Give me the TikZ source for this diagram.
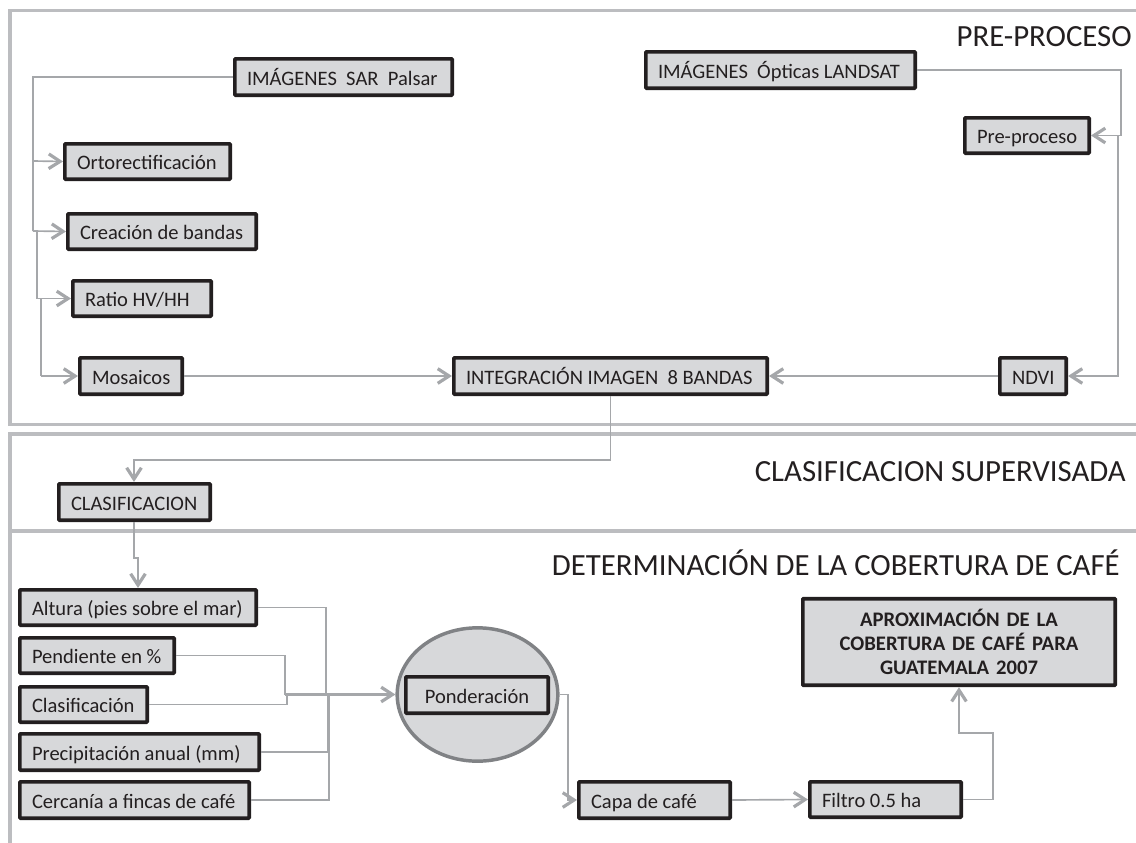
\documentclass[tikz,border=0pt]{standalone}
\usepackage{fontspec}
\setmainfont{Carlito}
\usetikzlibrary{arrows.meta,calc,shapes.geometric}
\definecolor{boxfill}{HTML}{D7D8DA}
\definecolor{frameline}{HTML}{BCBDC0}
\definecolor{connline}{HTML}{A5A7AA}
\definecolor{ink}{HTML}{231F20}
\definecolor{ellline}{HTML}{808285}
\tikzset{
  x=0.75pt,y=-0.75pt,
  flowbox/.style={draw=ink,fill=boxfill,line width=2.8pt,inner ysep=0pt,inner xsep=9.1pt,rounded corners=0.6pt,text=ink,font=\fontsize{15.4}{18}\selectfont},
  onelinebox/.style={flowbox,text height=15.5pt,text depth=3.5pt},
  conn/.style={draw=connline,line width=1.25pt},
  arr/.style={conn,-{Straight Barb[length=8.5pt,width=11pt,line width=2.4pt]}},
  panel/.style={draw=frameline,line width=2.6pt},
  heading/.style={anchor=base east,inner sep=0pt,text=ink,font=\fontsize{23.1}{26}\selectfont},
}
% alignment (l or c), name, left, top, right, bottom, text
\newcommand{\flowbx}[7][l]{%
  \pgfmathsetmacro{\bh}{(#6-#4)*0.75-2.8}%
  \pgfmathsetmacro{\tw}{(#5-#3)*0.75-2.8-18.2}%
  \node[onelinebox,minimum height=\bh pt] (#2) at ({(#3+#5)/2},{(#4+#6)/2}) {\makebox[\tw pt][#1]{#7}};}
\begin{document}
\begin{tikzpicture}
\useasboundingbox (0,0) rectangle (1136,843);
% panels
\draw[panel] (1136,10.5) -- (10,10.5) -- (10,424.5) -- (1136,424.5);
\draw[panel] (1136,434) -- (10,434) -- (10,843);
\draw[panel] (10,531) -- (1136,531);
% headings
\node[heading] (h1) at (1132,46.5) {PRE-PROCESO};
\node[heading] (h2) at (1126,481) {CLASIFICACION SUPERVISADA};
\node[heading] (h3) at (1120,575) {DETERMINACIÓN DE LA COBERTURA DE CAFÉ};
% top panel boxes
\flowbx{sar}{233}{57}{454}{97}{IMÁGENES\ \ SAR\ \ Palsar}
\flowbx{orto}{63}{142}{232}{181}{Ortorectificación}
\flowbx{banda}{66}{212}{258}{251}{Creación de bandas}
\flowbx{ratio}{71}{279}{213}{318}{Ratio HV/HH}
\flowbx{mosa}{78}{356}{184}{396}{Mosaicos}
\flowbx{integ}{452}{356}{769}{396}{INTEGRACIÓN IMAGEN\ \ 8 BANDAS}
\flowbx{ndvi}{998}{356}{1068}{396}{NDVI}
\flowbx{prep}{963}{116}{1091}{155}{Pre-proceso}
\flowbx{opt}{644}{50}{917}{90}{IMÁGENES\ \ Ópticas LANDSAT}
\flowbx{clas}{57}{482}{212}{522}{CLASIFICACION}
% lower boxes
\flowbx{alt}{18}{588}{258}{627}{Altura (pies sobre el mar)}
\flowbx{pend}{18}{636}{176}{675}{Pendiente en \%}
\flowbx{cla}{18}{685}{149}{724}{Clasificación}
\flowbx{prec}{18}{732}{261}{772}{Precipitación anual (mm)}
\flowbx{cerc}{18}{780}{251}{820}{Cercanía a fincas de café}
\node[draw=ellline,fill=boxfill,line width=2.6pt,ellipse,inner sep=0pt,minimum width=120.5pt,minimum height=100pt] (ell) at (477.5,694.5) {};
\flowbx[c]{pond}{404}{675}{550}{715}{Ponderación}
\flowbx{capa}{577}{780}{732}{820}{Capa de café}
\flowbx{filt}{808}{780}{963}{819}{Filtro 0.5 ha}
\node[flowbox,align=center,text width=216pt,minimum height=65pt,font=\fontsize{15.5}{18}\selectfont\bfseries] (apro) at (959,642) {APROXIMACIÓN DE LA\\COBERTURA DE CAFÉ PARA\\GUATEMALA 2007};
% SAR connectors
\coordinate (s1) at (33,77);
\coordinate (s2) at (33,161);
\coordinate (s3) at (33,231);
\coordinate (s4) at (37,231);
\coordinate (s5) at (37,298.5);
\coordinate (s6) at (41,298.5);
\coordinate (s7) at (41,376);
\draw[conn] (sar.west) -- (s1) -- (s3);
\draw[arr] (s2) -- (orto.west);
\draw[arr] (s3) -- (banda.west);
\draw[conn] (s4) -- (s5);
\draw[arr] (s5) -- (ratio.west);
\draw[conn] (s6) -- (s7);
\draw[arr] (s7) -- (mosa.west);
\draw[arr] (mosa.east) -- (integ.west);
\draw[arr] (ndvi.west) -- (integ.east);
% Landsat connectors
\coordinate (l1) at (1121,70);
\coordinate (l2) at (1121,135.5);
\coordinate (l3) at (1118,135.5);
\coordinate (l4) at (1118,376);
\draw[arr] (opt.east) -- (l1) -- (l2) -- (prep.east);
\draw[arr] (l3) -- (l4) -- (ndvi.east);
% classification
\coordinate (c1) at (610.5,460);
\coordinate (c2) at (134,460);
\draw[arr] (integ.south) -- (c1) -- (c2) -- (clas.north -| c2);
\coordinate (d0) at (134,522);
\coordinate (d1) at (134,558);
\coordinate (d2) at (138,558);
\draw[arr] (d0) -- (d1) -- (d2) -- (alt.north -| d2);
% criteria
\coordinate (m) at (285,694.5);
\coordinate (a1) at (326,607.5);
\coordinate (a2) at (326,694.5);
\coordinate (p1) at (285,655.5);
\coordinate (k1) at (287,704.5);
\coordinate (k2) at (287,694.5);
\coordinate (r1) at (328,752);
\coordinate (r2) at (328,694.5);
\coordinate (e1) at (329,800);
\coordinate (e2) at (329,694.5);
\draw[conn] (alt.east) -- (a1) -- (a2);
\draw[conn] (pend.east) -- (p1) -- (m);
\draw[conn] (cla.east) -- (k1) -- (k2);
\draw[conn] (prec.east) -- (r1) -- (r2);
\draw[conn] (cerc.east) -- (e1) -- (e2);
\draw[arr,line width=1.8pt] (m) -- (ell.west);
% outputs
\coordinate (o1) at (568,694.5);
\coordinate (o2) at (568,800);
\draw[arr] (ell.east) -- (o1) -- (o2) -- (capa.west);
\draw[arr] (capa.east) -- (filt.west);
\coordinate (f1) at (993,799.5);
\coordinate (f2) at (993,733);
\coordinate (f3) at (959,733);
\draw[arr] (filt.east) -- (f1) -- (f2) -- (f3) -- (apro.south -| f3);
\end{tikzpicture}
\end{document}
